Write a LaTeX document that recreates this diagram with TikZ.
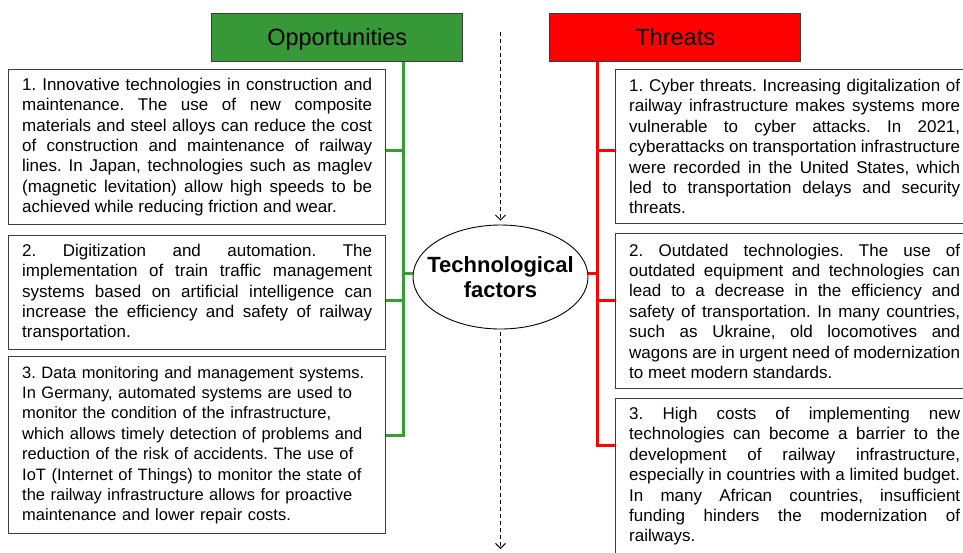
\documentclass[tikz,border=0pt]{standalone}
\usepackage{fontspec}
\setmainfont{Liberation Sans}
\usetikzlibrary{arrows.meta,shapes.geometric}
\definecolor{oppgreen}{RGB}{54,152,54}
\definecolor{linegreen}{RGB}{52,160,52}
\definecolor{thrred}{RGB}{255,0,0}
\definecolor{boxgray}{RGB}{60,60,60}
\frenchspacing
\hyphenpenalty=10000
\tikzset{
  txtbox/.style={draw=boxgray, line width=1.4pt, fill=white, anchor=north west,
    inner xsep=13.5pt, inner ysep=6pt, font=\fontsize{17}{20.4}\selectfont},
  leftbox/.style={txtbox, text width=350pt, minimum width=377pt},
  rightbox/.style={txtbox, text width=331pt, minimum width=358pt},
  headbox/.style={draw=boxgray, line width=1.4pt, minimum width=251pt, minimum height=48pt,
    text height=17pt, text depth=1pt,
    anchor=north west, font=\fontsize{23.5}{26}\selectfont, inner sep=0pt},
  gline/.style={linegreen, line width=3pt},
  rline/.style={thrred, line width=3pt},
  dashline/.style={black, line width=0.9pt, dash pattern=on 4pt off 3pt, -{Straight Barb[length=5pt,width=10pt]}}
}
\begin{document}
\frenchspacing\hyphenpenalty=10000
\begin{tikzpicture}[x=1pt,y=-1pt]
\useasboundingbox (0,0) rectangle (963,552);
\clip (0,0) rectangle (963,552);

% headers
\node[headbox, fill=oppgreen] (opp) at (211,13) {Opportunities};
\node[headbox, fill=thrred] (thr) at (549,13) {Threats};

% central ellipse
\node[ellipse, draw=black, line width=0.9pt, minimum width=175pt, minimum height=104pt,
  inner sep=0pt] (ell) at (500.5,277) {};
\node[align=center, inner sep=0pt, font=\fontsize{22}{24.5}\selectfont\bfseries] (elltxt) at (ell.center)
  {Technological\\factors};

% dashed arrows
\coordinate (dtop) at (500.5,32);
\coordinate (dbot) at (500.5,549);
\draw[dashline, shorten >=4pt] (dtop) -- (ell.north);
\draw[dashline, shorten <=3pt] (ell.south) -- (dbot);

% left boxes
\node[leftbox, align=justify, minimum height=155pt] (o1) at (8,69) {1. Innovative technologies in construction and\linebreak
maintenance. The use of new composite\linebreak
materials and steel alloys can reduce the cost\linebreak
of construction and maintenance of railway\linebreak
lines. In Japan, technologies such as maglev\linebreak
(magnetic levitation) allow high speeds to be\linebreak
achieved while reducing friction and wear.};

\node[leftbox, align=justify, minimum height=114pt] (o2) at (8,235) {2. Digitization and automation. The\linebreak
implementation of train traffic management\linebreak
systems based on artificial intelligence can\linebreak
increase the efficiency and safety of railway\linebreak
transportation.};

\node[leftbox, align=left, minimum height=177pt, font=\fontsize{16.5}{20.4}\selectfont] (o3) at (8,356) {3. Data monitoring and management systems.\\
In Germany, automated systems are used to\\
monitor the condition of the infrastructure,\\
which allows timely detection of problems and\\
reduction of the risk of accidents. The use of\\
IoT (Internet of Things) to monitor the state of\\
the railway infrastructure allows for proactive\\
maintenance and lower repair costs.};

% right boxes
\node[rightbox, align=justify, minimum height=154pt] (t1) at (615,69) {1. Cyber threats. Increasing digitalization of\linebreak
railway infrastructure makes systems more\linebreak
vulnerable to cyber attacks. In 2021,\linebreak
cyberattacks on transportation infrastructure\linebreak
were recorded in the United States, which\linebreak
led to transportation delays and security\linebreak
threats.};

\node[rightbox, align=justify, minimum height=155pt] (t2) at (615,233) {2. Outdated technologies. The use of\linebreak
outdated equipment and technologies can\linebreak
lead to a decrease in the efficiency and\linebreak
safety of transportation. In many countries,\linebreak
such as Ukraine, old locomotives and\linebreak
wagons are in urgent need of modernization\linebreak
to meet modern standards.};

\node[rightbox, align=justify, minimum height=155pt] (t3) at (615,398) {3. High costs of implementing new\linebreak
technologies can become a barrier to the\linebreak
development of railway infrastructure,\linebreak
especially in countries with a limited budget.\linebreak
In many African countries, insufficient\linebreak
funding hinders the modernization of\linebreak
railways.};

% green connectors
\coordinate (gx) at (403,0);
\coordinate (g1) at (403,150);
\coordinate (g2) at (403,300.5);
\coordinate (g3) at (403,435);
\coordinate (ge) at (403,273);
\draw[gline] (opp.south -| gx) -- (g3) -- (o3.east |- g3);
\draw[gline] (g1) -- (o1.east |- g1);
\draw[gline] (g2) -- (o2.east |- g2);
\draw[gline] (ge) -- (ell.west |- ge);

% red connectors
\coordinate (rx) at (597,0);
\coordinate (r1) at (597,150);
\coordinate (r2) at (597,300.5);
\coordinate (r3) at (597,445);
\coordinate (re) at (597,273);
\draw[rline] (thr.south -| rx) -- (r3) -- (t3.west |- r3);
\draw[rline] (r1) -- (t1.west |- r1);
\draw[rline] (r2) -- (t2.west |- r2);
\draw[rline] (re) -- (ell.east |- re);
\end{tikzpicture}
\end{document}
